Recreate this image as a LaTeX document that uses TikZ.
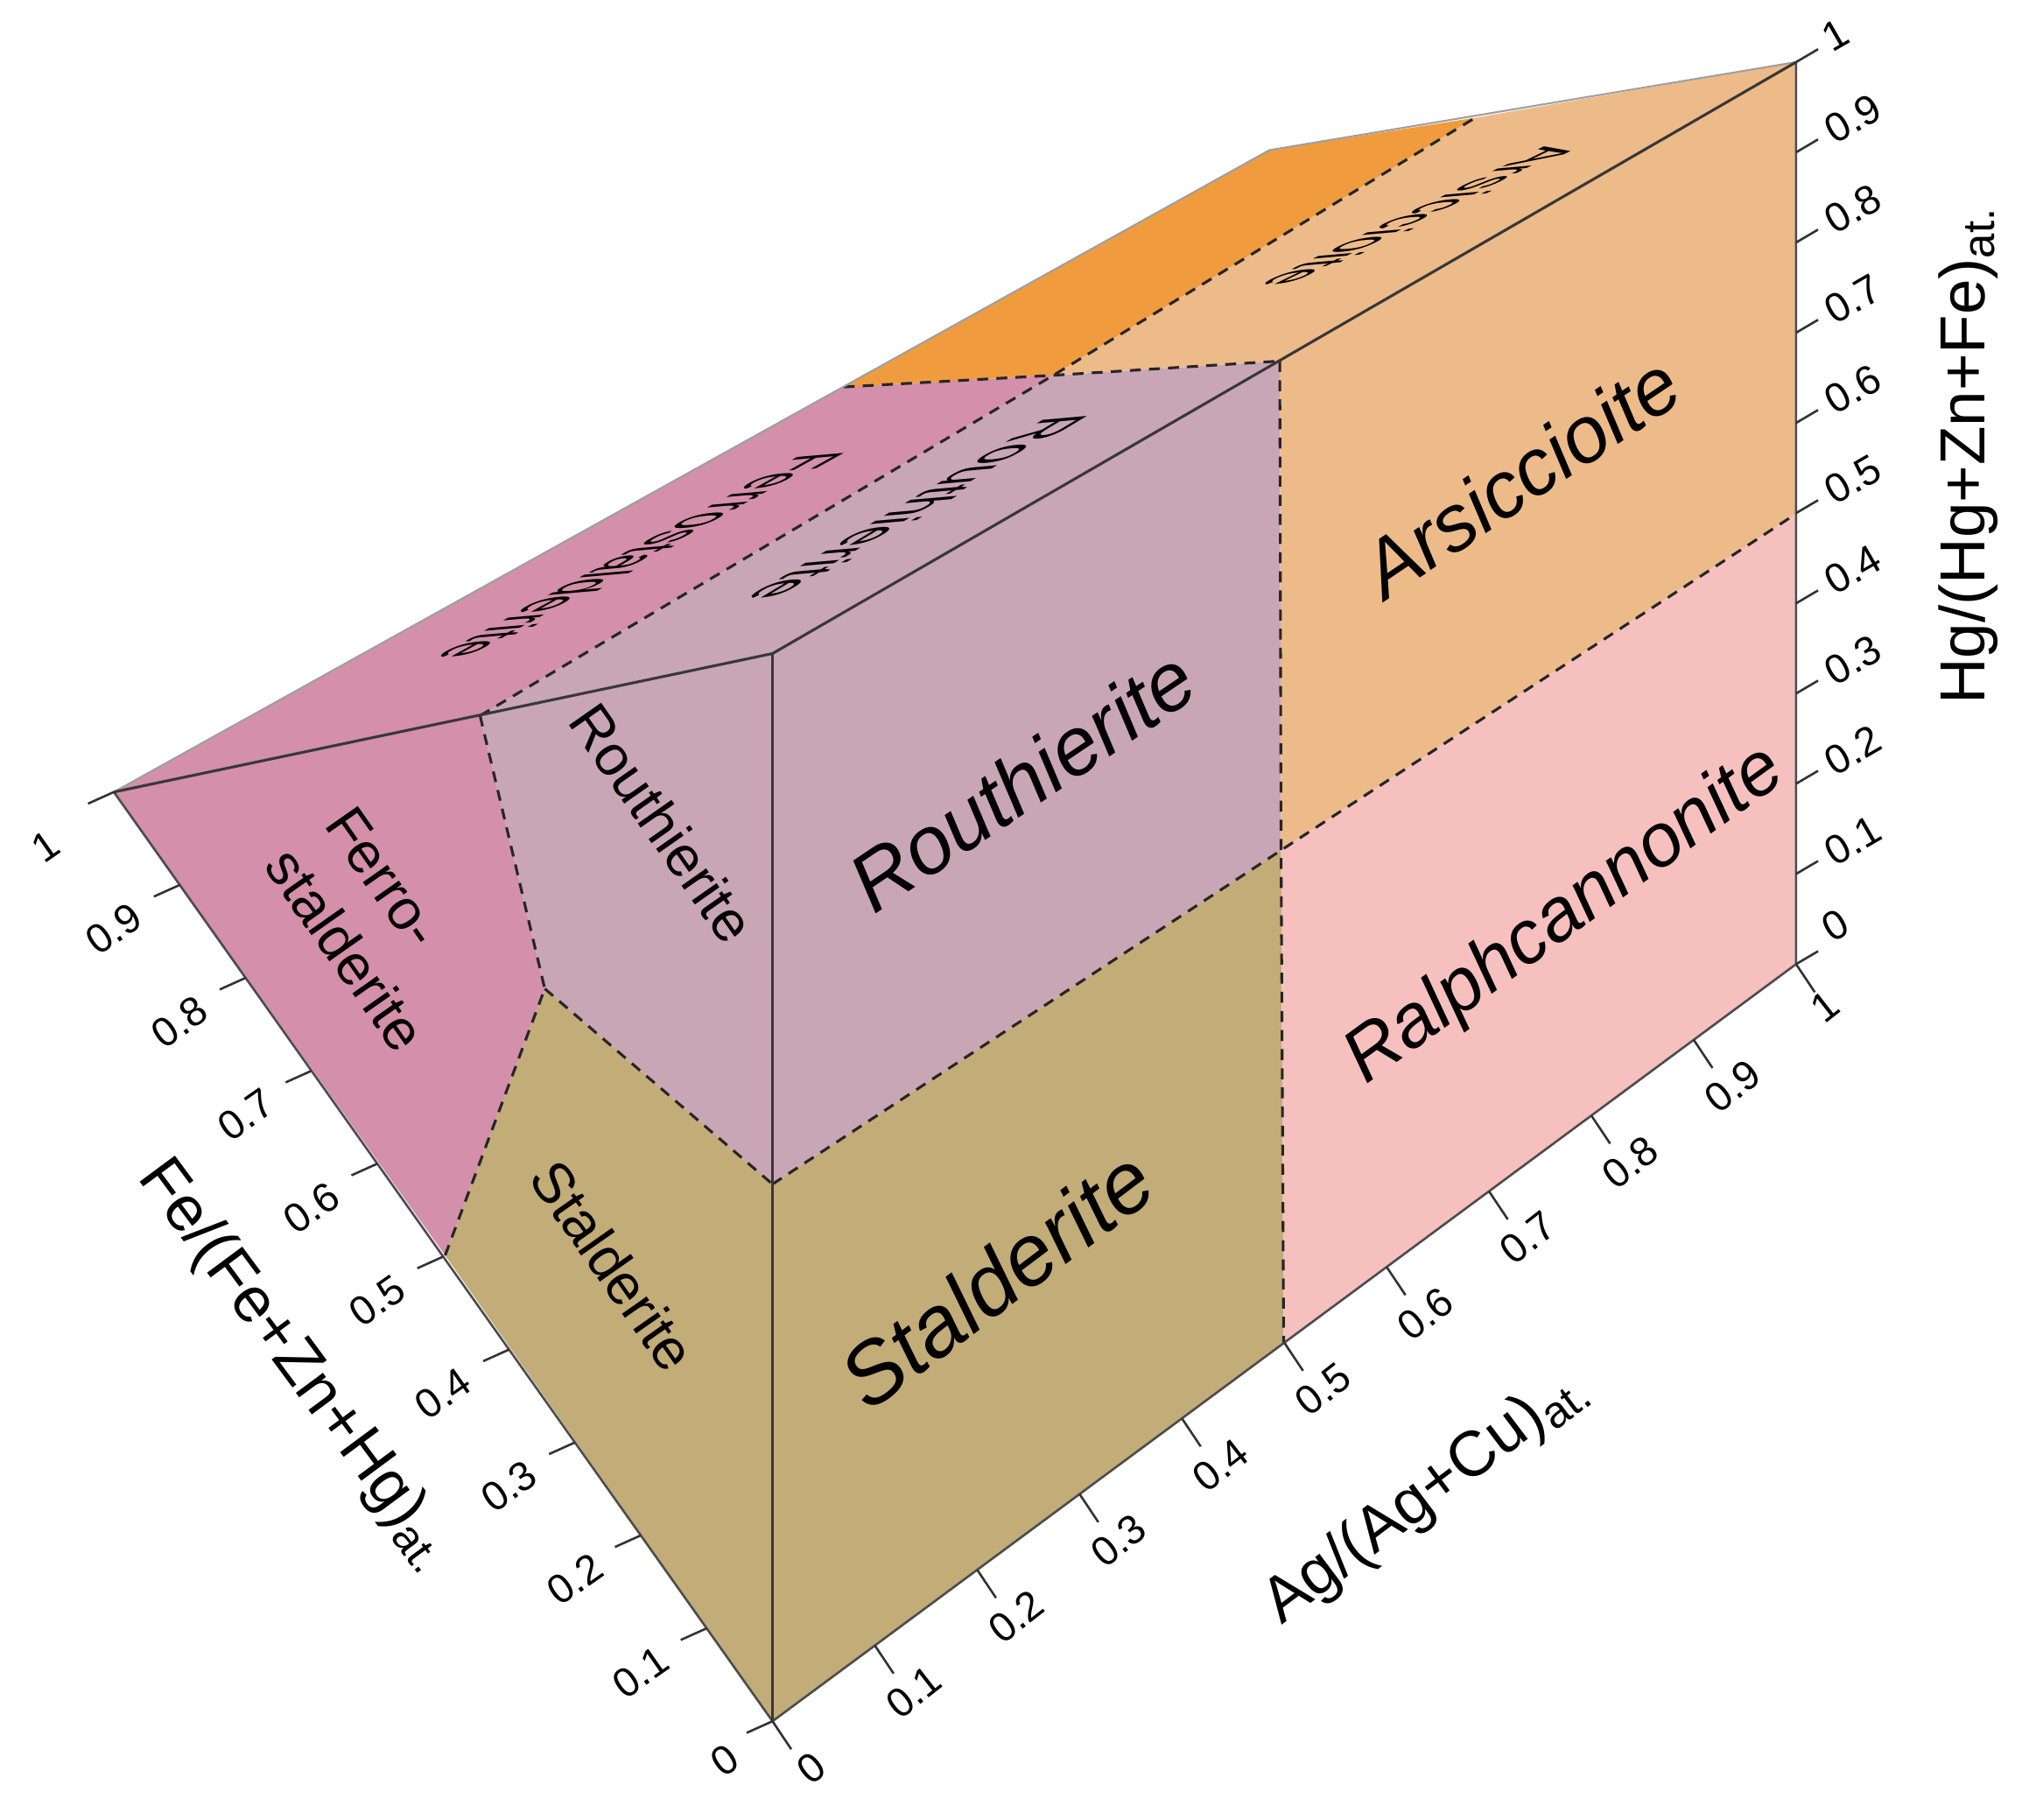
\documentclass[tikz,border=0pt]{standalone}
\usepackage{fontspec}
\setmainfont{Liberation Sans}
\usetikzlibrary{calc}

\definecolor{ferrocol}{HTML}{D48FAA}
\definecolor{routhcol}{HTML}{C9A6B6}
\definecolor{staldcol}{HTML}{C2AC78}
\definecolor{arsiccol}{HTML}{EDBB8A}
\definecolor{arsdkcol}{HTML}{F09C3E}
\definecolor{ralphcol}{HTML}{F6C0BE}
\definecolor{edgecol}{HTML}{383838}

\begin{document}
\begin{tikzpicture}[x=0.01cm, y=-0.01cm]
    \tikzset{
        boundary/.style={line width=0.6pt, black!85, dash pattern=on 2.4pt off 1.8pt},
        boxedge/.style={line width=0.6pt, edgecol},
        axisline/.style={line width=0.5pt, black!70},
        backedge/.style={line width=0.4pt, gray!75},
        tickmark/.style={line width=0.5pt, black!80},
        ticklbl/.style={font=\fontsize{9}{10}\selectfont, inner sep=0pt},
        axistitle/.style={font=\fontsize{14}{16}\selectfont, inner sep=0pt},
        facelbl/.style={font=\fontsize{12.5}{16}\selectfont, inner sep=0pt, align=left},
        toplbl/.style={font=\fontsize{10}{12}\selectfont, inner sep=0pt, transform shape},
        frontlbl/.style={font=\fontsize{17.5}{20}\selectfont\itshape, inner sep=0pt}
    }
    \useasboundingbox (0,0) rectangle (1568,1406);

    % corners of the prism
    \coordinate (O) at (597,1330);
    \coordinate (A) at (1388,745);
    \coordinate (H) at (597,505);
    \coordinate (HA) at (1388,48);
    \coordinate (F) at (88,612);
    \coordinate (FA) at (981,116);

    % field boundaries
    \coordinate (lfr) at (371,553);
    \coordinate (ltr) at (421,764);
    \coordinate (lfe) at (344,970);
    \coordinate (lhg) at (597,915);
    \coordinate (ahg) at (1388,397);
    \coordinate (mb) at (992,1038);
    \coordinate (mt) at (989,279);
    \coordinate (mc) at (990,657);
    \coordinate (tb) at (652,299);
    \coordinate (tq) at (814,290);
    \coordinate (tr) at (1140,91);

    % left face
    \fill[ferrocol] (F) -- (lfr) -- (ltr) -- (lfe) -- cycle;
    \fill[routhcol] (lfr) -- (H) -- (lhg) -- (ltr) -- cycle;
    \fill[staldcol] (lfe) -- (ltr) -- (lhg) -- (O) -- cycle;
    % front face
    \fill[routhcol] (H) -- (mt) -- (mc) -- (lhg) -- cycle;
    \fill[arsiccol] (mt) -- (HA) -- (ahg) -- (mc) -- cycle;
    \fill[staldcol] (lhg) -- (mc) -- (mb) -- (O) -- cycle;
    \fill[ralphcol] (mc) -- (ahg) -- (A) -- (mb) -- cycle;
    % top face
    \fill[ferrocol] (F) -- (tb) -- (tq) -- (lfr) -- cycle;
    \fill[routhcol] (lfr) -- (tq) -- (mt) -- (H) -- cycle;
    \fill[arsdkcol] (tb) -- (FA) -- (tr) -- (tq) -- cycle;
    \fill[arsiccol] (tq) -- (tr) -- (HA) -- (mt) -- cycle;

    \draw[boundary] (lfr) -- (ltr) -- (lfe);
    \draw[boundary] (ltr) -- (lhg);
    \draw[boundary] (lhg) -- (mc) -- (ahg);
    \draw[boundary] (mt) -- (mc) -- (mb);
    \draw[boundary] (tb) -- (tq) -- (mt);
    \draw[boundary] (lfr) -- (tq) -- (tr);

    \draw[backedge] (F) -- (FA) -- (HA);
    \draw[axisline] (F) -- (O) -- (A) -- (HA);
    \draw[boxedge] (F) -- (H) -- (HA);
    \draw[boxedge] (O) -- (H);

    % ticks
    \foreach \t in {0,0.1,0.2,0.3,0.4,0.5,0.6,0.7,0.8,0.9,1} {
        \draw[tickmark] ($(O)!\t!(F)$) -- ++(-20,9);
        \draw[tickmark] ($(O)!\t!(A)$) -- ++(14.5,21.7);
        \draw[tickmark] ($(A)!\t!(HA)$) -- ++(17,-10);
    }
    \foreach \t [count=\i] in {0.1,0.2,0.3,0.4,0.5,0.6,0.7,0.8,0.9} {
        \node[ticklbl, rotate=35] (felbl\i) at ($(O)!\t!(F) + (-51,34)$) {\t};
        \node[ticklbl, rotate=38] (aglbl\i) at ($(O)!\t!(A) + (30,36)$) {\t};
        \node[ticklbl, rotate=30] (hglbl\i) at ($(A)!\t!(HA) + (44,-26)$) {\t};
    }
    \node[ticklbl, rotate=35] (felbl0) at ($(O) + (-37,30)$) {0};
    \node[ticklbl, rotate=35] (felbl10) at ($(F) + (-53,42)$) {1};
    \node[ticklbl, rotate=38] (aglbl0) at ($(O) + (30,36)$) {0};
    \node[ticklbl, rotate=38] (aglbl10) at ($(A) + (22,33)$) {1};
    \node[ticklbl, rotate=30] (hglbl0) at ($(A) + (30,-30)$) {0};
    \node[ticklbl, rotate=30] (hglbl10) at ($(HA) + (30,-21)$) {1};

    % axis titles
    \node[axistitle, rotate=-53.5] (fetitle) at (229,1055) {Fe/(Fe+Zn+Hg)\textsubscript{at.}};
    \node[axistitle, rotate=37] (agtitle) at (1102,1156) {Ag/(Ag+Cu)\textsubscript{at.}};
    \node[axistitle, rotate=90, anchor=base] (hgtitle) at (1534,352) {Hg/(Hg+Zn+Fe)\textsubscript{at.}};

    % field names, left face
    \node[facelbl, rotate=-55] (ferrolf) at (290,718) {Ferro-\\stalderite};
    \node[facelbl, rotate=-55] (routhlf) at (512,636) {Routhierite};
    \node[facelbl, rotate=-55] (staldlf) at (474,978) {Stalderite};

    % field names, top face (laid into the slanted face)
    \begin{scope}[shift={(496,429)}, cm={-1.26,-0.698,1.494,0.131,(0,0)}]
        \node[toplbl] (ferrotp) at (0,0) {Ferrostalderite};
    \end{scope}
    \begin{scope}[shift={(710,392)}, cm={-1.389,-0.834,1.415,0.124,(0,0)}]
        \node[toplbl] (routhtp) at (0,0) {Routhierite};
    \end{scope}
    \begin{scope}[shift={(1100,166)}, cm={-1.393,-0.679,1.415,0.124,(0,0)}]
        \node[toplbl] (arstp) at (0,0) {Arsiccioite};
    \end{scope}

    % field names, front face
    \node[frontlbl, rotate=34, font=\fontsize{18}{20}\selectfont\itshape] (routhfr) at (790,603) {Routhierite};
    \node[frontlbl, rotate=34] (arsfr) at (1175,368) {Arsiccioite};
    \node[frontlbl, rotate=37, font=\fontsize{19}{22}\selectfont\itshape] (staldfr) at (770,988) {Stalderite};
    \node[frontlbl, rotate=36, font=\fontsize{16.5}{20}\selectfont\itshape] (ralphfr) at (1210,708) {Ralphcannonite};
\end{tikzpicture}
\end{document}
